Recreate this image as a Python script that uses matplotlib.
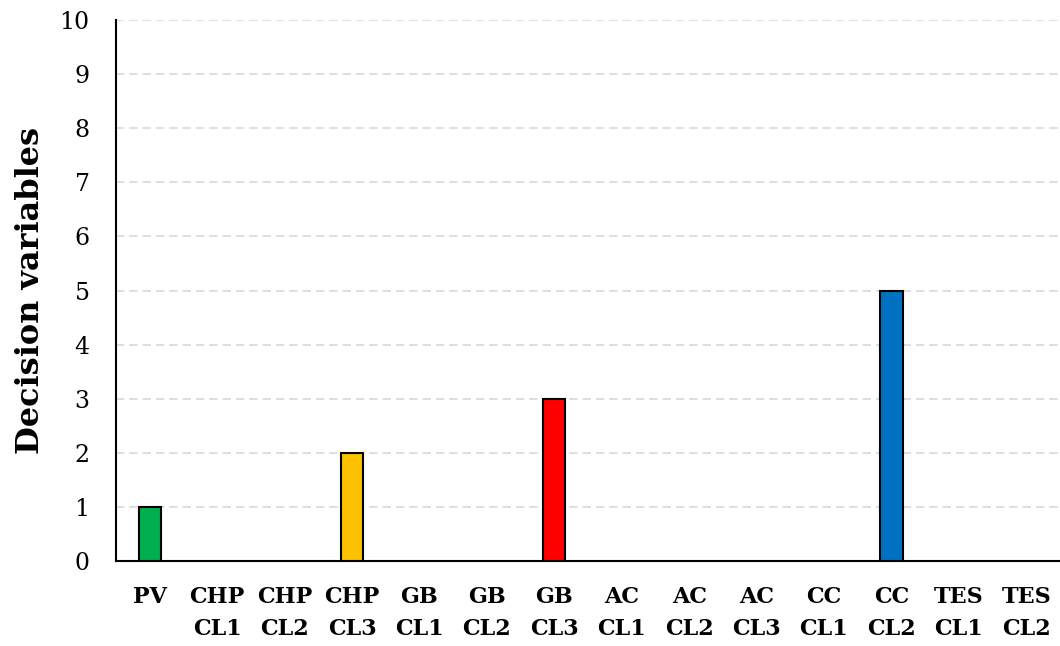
import matplotlib
matplotlib.use('Agg')
import matplotlib.pyplot as plt
import numpy as np

categories = ['PV', 'CHP\nCL1', 'CHP\nCL2', 'CHP\nCL3', 'GB\nCL1', 'GB\nCL2', 'GB\nCL3',
              'AC\nCL1', 'AC\nCL2', 'AC\nCL3', 'CC\nCL1', 'CC\nCL2', 'TES\nCL1', 'TES\nCL2']
values = [1, 0, 0, 2, 0, 0, 3, 0, 0, 0, 0, 5, 0, 0]
bar_colors = ['#00B050', '#FFFFFF', '#FFFFFF', '#FFC000', '#FFFFFF', '#FFFFFF', '#FF0000',
              '#FFFFFF', '#FFFFFF', '#FFFFFF', '#FFFFFF', '#0070C0', '#FFFFFF', '#FFFFFF']

plt.rcParams['font.family'] = ['DejaVu Serif']

fig = plt.figure(figsize=(10.6, 6.46), dpi=100)
ax = fig.add_axes([0.1094, 0.1316, 0.8906, 0.8374])

x = np.arange(len(categories))
nonzero = [i for i, v in enumerate(values) if v > 0]
ax.bar(x[nonzero], [values[i] for i in nonzero], width=0.33,
       color=[bar_colors[i] for i in nonzero], edgecolor='black', linewidth=1.5, zorder=3)

ax.set_xlim(-0.5, len(categories) - 0.5)
ax.set_ylim(0, 10)
ax.set_yticks(range(0, 11))
ax.yaxis.grid(True, linestyle=(0, (5, 3)), color='#d9d9d9', linewidth=1.2, zorder=0)

ax.set_xticks(x)
ax.set_xticklabels(categories, fontweight='bold', fontsize=16, linespacing=1.6)
ax.tick_params(axis='both', length=0)
ax.tick_params(axis='x', pad=18)
ax.tick_params(axis='y', labelsize=17, pad=19)

for s in ['top', 'right']:
    ax.spines[s].set_visible(False)
ax.spines['left'].set_linewidth(1.5)
ax.spines['bottom'].set_linewidth(1.5)

ax.set_ylabel('Decision variables', fontsize=23, fontweight='bold')
ax.yaxis.set_label_coords(-0.074, 0.5)

fig.savefig('out.png', dpi=100)
